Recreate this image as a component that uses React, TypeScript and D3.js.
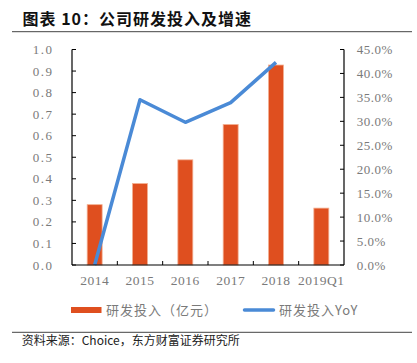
import React from "react";
import * as d3 from "d3";

const categories = ["2014", "2015", "2016", "2017", "2018", "2019Q1"];
const rdSpend = [0.28, 0.378, 0.488, 0.652, 0.928, 0.264];
const rdYoY = [0.0, 0.345, 0.298, 0.339, 0.423];
const leftTicks = [0, 0.1, 0.2, 0.3, 0.4, 0.5, 0.6, 0.7, 0.8, 0.9, 1.0];
const rightTicks = [0, 0.05, 0.1, 0.15, 0.2, 0.25, 0.3, 0.35, 0.4, 0.45];

const W = 417;
const H = 363;
const ORANGE = "#DF4F1F";
const BLUE = "#4A8AD6";
const GREY = "#7a7a7a";
const SERIF = "'Liberation Serif', 'DejaVu Serif', serif";
const CJK = "'Noto Sans CJK SC', sans-serif";

export default function App() {
  const left = 72, right = 344, top = 49.5, bottom = 265;
  const x = d3.scaleBand<string>().domain(categories).range([left, right]).paddingInner(0).paddingOuter(0);
  const yL = d3.scaleLinear().domain([0, 1]).range([bottom, top]);
  const yR = d3.scaleLinear().domain([0, 0.45]).range([bottom, top]);
  const bw = x.bandwidth() * 0.33;
  const cx = (c: string) => (x(c) as number) + x.bandwidth() / 2;

  const line = d3
    .line<number>()
    .x((_, i) => cx(categories[i]))
    .y((d) => yR(d))
    .curve(d3.curveLinear);

  const boundaries = categories.slice(1).map((c) => x(c) as number);

  return (
    <svg
      width={W}
      height={H}
      style={{ position: "absolute", left: 0, top: 0, background: "#fff" }}
    >
      <rect x={0} y={0} width={W} height={H} fill="#fff" />
      <text
        x={22.5}
        y={25}
        fontFamily={CJK}
        fontSize={16}
        fontWeight="bold"
        letterSpacing={1}
        fill="#111"
      >
        图表 10：公司研发投入及增速
      </text>
      <line x1={12} x2={412} y1={31.7} y2={31.7} stroke="#444" strokeWidth={1} />

      {/* bars */}
      {categories.map((c, i) => (
        <rect
          key={c}
          x={cx(c) - bw / 2}
          y={yL(rdSpend[i])}
          width={bw}
          height={bottom - yL(rdSpend[i])}
          fill={ORANGE}
          stroke="#F3B092"
          strokeWidth={0.8}
        />
      ))}

      {/* line */}
      <path
        d={line(rdYoY) || ""}
        fill="none"
        stroke={BLUE}
        strokeWidth={3.5}
        strokeLinejoin="round"
      />

      {/* left axis */}
      <line x1={left} x2={left} y1={top} y2={bottom} stroke="#000" strokeWidth={1.2} />
      {leftTicks.map((t) => (
        <g key={"l" + t}>
          <line x1={left} x2={left + 4} y1={yL(t)} y2={yL(t)} stroke="#000" strokeWidth={1} />
          <text
            x={53.5}
            y={yL(t)}
            dy="0.35em"
            textAnchor="end"
            fontFamily={SERIF}
            fontSize={13}
            letterSpacing={1.5}
            fill={GREY}
          >
            {d3.format(".1f")(t)}
          </text>
        </g>
      ))}

      {/* right axis */}
      <line x1={right} x2={right} y1={top} y2={bottom} stroke="#000" strokeWidth={1.2} />
      {rightTicks.map((t) => (
        <g key={"r" + t}>
          <line x1={right - 4} x2={right} y1={yR(t)} y2={yR(t)} stroke="#000" strokeWidth={1} />
          <text
            x={356.7}
            y={yR(t)}
            dy="0.35em"
            textAnchor="start"
            fontFamily={SERIF}
            fontSize={13}
            letterSpacing={0.5}
            fill={GREY}
          >
            {d3.format(".1%")(t)}
          </text>
        </g>
      ))}

      {/* bottom axis */}
      <line x1={left} x2={right} y1={bottom} y2={bottom} stroke="#000" strokeWidth={1.2} />
      {boundaries.map((b, i) => (
        <line key={"b" + i} x1={b} x2={b} y1={bottom} y2={bottom - 4} stroke="#000" strokeWidth={1} />
      ))}
      {categories.map((c) => (
        <text
          key={"x" + c}
          x={cx(c)}
          y={285}
          textAnchor="middle"
          fontFamily={SERIF}
          fontSize={13.5}
          letterSpacing={0.5}
          fill={GREY}
        >
          {c}
        </text>
      ))}

      {/* legend */}
      <rect x={71} y={307} width={30.5} height={6} fill={ORANGE} />
      <text x={106} y={310} dy="0.35em" fontFamily={CJK} fontSize={13} letterSpacing={1} fill={GREY}>
        研发投入（亿元）
      </text>
      <line x1={244.5} x2={273.5} y1={310} y2={310} stroke={BLUE} strokeWidth={3.5} strokeLinecap="round" />
      <text x={279} y={310} dy="0.35em" fontFamily={CJK} fontSize={13} letterSpacing={1} fill={GREY}>
        研发投入YoY
      </text>

      <line x1={12} x2={412} y1={332.3} y2={332.3} stroke="#444" strokeWidth={1} />
      <text x={21.7} y={345} fontFamily={CJK} fontSize={12} fill="#222">
        资料来源：Choice，东方财富证券研究所
      </text>
    </svg>
  );
}
